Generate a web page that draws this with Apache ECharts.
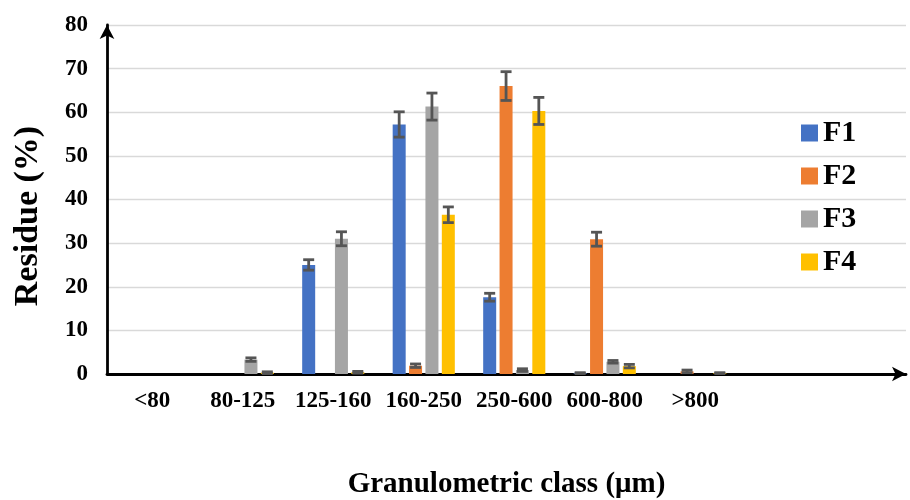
<!DOCTYPE html>
<html>
<head>
<meta charset="utf-8">
<script src="https://cdn.jsdelivr.net/npm/echarts@6/dist/echarts.min.js"></script>
<style>
  html, body { margin: 0; padding: 0; background: #fff; }
  #chart { width: 910px; height: 500px; }
</style>
</head>
<body>
<div id="chart"></div>
<script>
// Granulometric classes (µm)
const categories = ['<80', '80-125', '125-160', '160-250', '250-600', '600-800', '>800'];
const seriesNames = ['F1', 'F2', 'F3', 'F4'];

// Residue (%) per fraction
const f1Values = [0, 0, 25.0, 57.2, 17.6, 0.2, 0];
const f2Values = [0, 0, 0, 1.9, 66.0, 30.9, 0.6];
const f3Values = [0, 3.3, 31.0, 61.3, 0.9, 2.8, 0];
const f4Values = [0, 0.3, 0.4, 36.5, 60.3, 1.8, 0.2];

// Standard deviations
const f1Errors = [0, 0, 1.2, 2.9, 0.9, 0.1, 0];
const f2Errors = [0, 0, 0, 0.4, 3.3, 1.6, 0.3];
const f3Errors = [0, 0.4, 1.6, 3.1, 0.3, 0.3, 0];
const f4Errors = [0, 0.2, 0.2, 1.8, 3.1, 0.4, 0.1];

const yTicks = [0, 10, 20, 30, 40, 50, 60, 70, 80];

const colors = ['#4472C4', '#ED7D31', '#A5A5A5', '#FFC000'];
const valueSets = [f1Values, f2Values, f3Values, f4Values];
const errorSets = [f1Errors, f2Errors, f3Errors, f4Errors];

const FONT = '"Liberation Serif", "Times New Roman", serif';
const BAR_W = 13;
const BAR_GAP = 0.26;
const STEP = BAR_W * (1 + BAR_GAP);

const chart = echarts.init(document.getElementById('chart'));

const barSeries = seriesNames.map((name, k) => ({
  name: name,
  type: 'bar',
  xAxisIndex: 1,
  yAxisIndex: 1,
  data: valueSets[k],
  barWidth: BAR_W,
  barGap: (BAR_GAP * 100) + '%',
  itemStyle: { color: colors[k] },
  z: 3
}));

const errorSeries = seriesNames.map((name, k) => ({
  name: name + ' sd',
  type: 'custom',
  xAxisIndex: 1,
  yAxisIndex: 1,
  z: 5,
  silent: true,
  data: categories.map((c, i) => [i, valueSets[k][i], errorSets[k][i]]),
  renderItem: function (params, api) {
    const err = api.value(2);
    if (!err) return null;
    const cat = api.value(0);
    const v = api.value(1);
    const hi = api.coord([cat, v + err]);
    const lo = api.coord([cat, Math.max(0, v - err)]);
    const x = hi[0] + (k - 1.5) * STEP;
    const cap = 5.5;
    const style = { stroke: '#555555', lineWidth: 2.8 };
    return {
      type: 'group',
      children: [
        { type: 'line', shape: { x1: x, y1: hi[1], x2: x, y2: lo[1] }, style: style },
        { type: 'line', shape: { x1: x - cap, y1: hi[1], x2: x + cap, y2: hi[1] }, style: style },
        { type: 'line', shape: { x1: x - cap, y1: lo[1], x2: x + cap, y2: lo[1] }, style: style }
      ]
    };
  }
}));

chart.setOption({
  animation: false,
  backgroundColor: '#ffffff',
  textStyle: { fontFamily: FONT },
  grid: [
    { left: 107, right: 4, top: 25, bottom: 126, containLabel: false, outerBoundsMode: 'none' },
    { left: 107, width: 7 * 90.5, top: 25, bottom: 126, containLabel: false, outerBoundsMode: 'none' }
  ],
  legend: {
    orient: 'vertical',
    left: 796,
    top: 113,
    itemWidth: 17,
    itemHeight: 17,
    itemGap: 13,
    icon: 'rect',
    data: seriesNames,
    textStyle: { fontFamily: FONT, fontWeight: 'bold', fontSize: 30, color: '#000' }
  },
  xAxis: [
    {
      type: 'value',
      gridIndex: 0,
      min: 0,
      max: 1,
      axisLabel: { show: false },
      axisTick: { show: false },
      splitLine: { show: false },
      axisLine: {
        show: true,
        onZero: false,
        symbol: ['none', 'arrow'],
        symbolSize: [11, 14],
        lineStyle: { color: '#000', width: 2.8 }
      },
      name: 'Granulometric class (μm)',
      nameLocation: 'middle',
      nameGap: 96,
      nameTextStyle: { fontFamily: FONT, fontWeight: 'bold', fontSize: 29, color: '#000' }
    },
    {
      type: 'category',
      gridIndex: 1,
      data: categories,
      axisLine: { show: false },
      axisTick: { show: false },
      axisLabel: {
        interval: 0,
        margin: 16,
        fontFamily: FONT,
        fontWeight: 'bold',
        fontSize: 23,
        color: '#000'
      }
    }
  ],
  yAxis: [
    {
      type: 'value',
      gridIndex: 0,
      min: yTicks[0],
      max: yTicks[yTicks.length - 1],
      interval: 10,
      axisLine: {
        show: true,
        onZero: false,
        symbol: ['none', 'arrow'],
        symbolSize: [11, 14],
        lineStyle: { color: '#000', width: 2.8 }
      },
      axisTick: { show: false },
      axisLabel: {
        margin: 19,
        fontFamily: FONT,
        fontWeight: 'bold',
        fontSize: 23,
        color: '#000'
      },
      splitLine: { show: true, lineStyle: { color: '#d9d9d9', width: 1.3 } }
    },
    {
      type: 'value',
      gridIndex: 1,
      min: yTicks[0],
      max: yTicks[yTicks.length - 1],
      interval: 10,
      show: false
    }
  ],
  graphic: [
    {
      type: 'text',
      x: 28,
      y: 216,
      rotation: Math.PI / 2,
      style: {
        text: 'Residue (%)',
        fontFamily: FONT,
        fontWeight: 'bold',
        fontSize: 34,
        fill: '#000',
        align: 'center',
        verticalAlign: 'middle'
      }
    }
  ],
  series: barSeries.concat(errorSeries)
});
</script>
</body>
</html>
